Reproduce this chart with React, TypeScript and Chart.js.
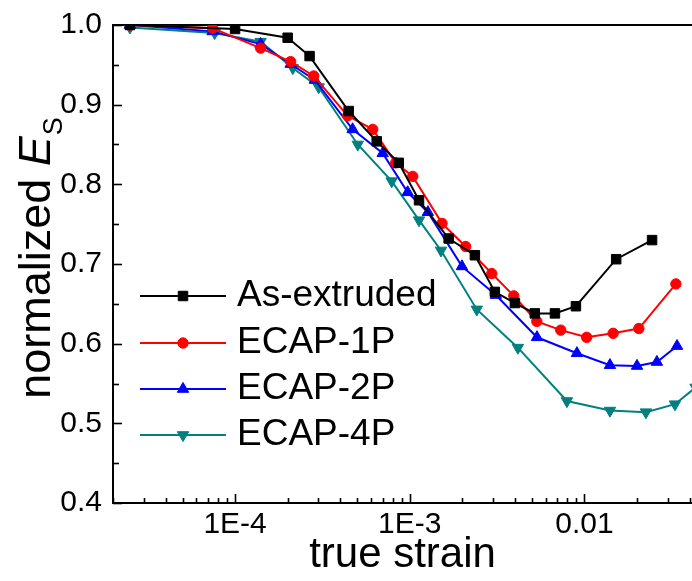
import React, { useEffect, useRef } from 'react';
import { Chart, registerables } from 'chart.js';
import { drawPoint } from 'chart.js/helpers';

Chart.register(...registerables);

const FONT = '"Liberation Sans", Arial, Helvetica, sans-serif';

const SERIES_NAMES = ['As-extruded', 'ECAP-1P', 'ECAP-2P', 'ECAP-4P'];
const SERIES_COLORS = ['#000000', '#ff0000', '#0000ff', '#008080'];

const AS_X = [2.5e-5, 1.0e-4, 2.0e-4, 2.67e-4, 4.47e-4, 6.47e-4, 8.65e-4, 1.13e-3, 1.67e-3, 2.36e-3, 3.07e-3, 4.0e-3, 5.2e-3, 6.78e-3, 8.94e-3, 1.52e-2, 2.44e-2];
const AS_Y = [1.0, 0.995, 0.984, 0.961, 0.892, 0.854, 0.827, 0.78, 0.732, 0.711, 0.665, 0.651, 0.638, 0.638, 0.647, 0.706, 0.73];

const P1_X = [2.5e-5, 7.43e-5, 1.4e-4, 2.08e-4, 2.82e-4, 4.41e-4, 6.14e-4, 8.31e-4, 1.04e-3, 1.53e-3, 2.09e-3, 2.95e-3, 3.94e-3, 5.34e-3, 7.32e-3, 1.03e-2, 1.46e-2, 2.05e-2, 3.34e-2];
const P1_Y = [1.0, 0.996, 0.971, 0.954, 0.936, 0.886, 0.869, 0.827, 0.81, 0.751, 0.722, 0.688, 0.66, 0.628, 0.617, 0.608, 0.613, 0.619, 0.675];

const P2_X = [2.5e-5, 7.43e-5, 1.4e-4, 2.08e-4, 2.86e-4, 4.71e-4, 7.0e-4, 9.73e-4, 1.27e-3, 1.99e-3, 3.11e-3, 5.35e-3, 9.06e-3, 1.4e-2, 2.0e-2, 2.6e-2, 3.39e-2];
const P2_Y = [1.0, 0.992, 0.976, 0.951, 0.931, 0.869, 0.839, 0.79, 0.765, 0.697, 0.661, 0.608, 0.588, 0.573, 0.572, 0.577, 0.597];

const P4_X = [2.5e-5, 7.64e-5, 1.4e-4, 2.14e-4, 3.01e-4, 5.04e-4, 7.88e-4, 1.13e-3, 1.51e-3, 2.42e-3, 4.16e-3, 7.94e-3, 1.4e-2, 2.25e-2, 3.3e-2, 4.33e-2];
const P4_Y = [0.997, 0.99, 0.979, 0.946, 0.922, 0.85, 0.804, 0.755, 0.717, 0.643, 0.595, 0.528, 0.516, 0.514, 0.524, 0.545];

const X_TICKS = [1e-4, 1e-3, 1e-2];
const X_TICK_LABELS = ['1E-4', '1E-3', '0.01'];
const Y_TICKS = [0.4, 0.5, 0.6, 0.7, 0.8, 0.9, 1.0];
const X_MIN = 2e-5;
const X_MAX = 0.0413;
const Y_MIN = 0.4;
const Y_MAX = 1.0;
const X_TITLE = 'true strain';
const Y_TITLE_MAIN = 'normalized ';
const Y_TITLE_SYMBOL = 'E';
const Y_TITLE_SUB = 'S';

const POINT_STYLES = [
  { pointStyle: 'rect', rotation: 0, radius: 6.7 },
  { pointStyle: 'circle', rotation: 0, radius: 5.2 },
  { pointStyle: 'triangle', rotation: 0, radius: 6.6 },
  { pointStyle: 'triangle', rotation: 180, radius: 6.6 },
];

const SERIES_X = [AS_X, P1_X, P2_X, P4_X];
const SERIES_Y = [AS_Y, P1_Y, P2_Y, P4_Y];

const framePlugin = {
  id: 'frameTicks',
  beforeDatasetsDraw(chart: any) {
    const { ctx, chartArea } = chart;
    const xs = chart.scales.x;
    const ys = chart.scales.y;
    ctx.save();
    ctx.strokeStyle = '#000';
    ctx.lineWidth = 1.6;
    for (let e = -5; e <= -1; e++) {
      for (let k = 1; k <= 9; k++) {
        const v = k * Math.pow(10, e);
        if (v < X_MIN * 0.999 || v > X_MAX) continue;
        const px = Math.round(xs.getPixelForValue(v)) + 0.5;
        const len = k === 1 ? 9 : 5;
        ctx.beginPath();
        ctx.moveTo(px, chartArea.bottom);
        ctx.lineTo(px, chartArea.bottom - len);
        ctx.stroke();
      }
    }
    for (let i = 0; i <= 12; i++) {
      const v = Y_MIN + i * 0.05;
      const py = Math.round(ys.getPixelForValue(v)) + 0.5;
      const len = i % 2 === 0 ? 9 : 6;
      ctx.beginPath();
      ctx.moveTo(chartArea.left, py);
      ctx.lineTo(chartArea.left + len, py);
      ctx.stroke();
    }
    ctx.lineWidth = 2;
    ctx.beginPath();
    ctx.moveTo(chartArea.right + 2, chartArea.top);
    ctx.lineTo(chartArea.left, chartArea.top);
    ctx.lineTo(chartArea.left, chartArea.bottom);
    ctx.lineTo(chartArea.right + 2, chartArea.bottom);
    ctx.stroke();
    ctx.restore();
  },
  afterDraw(chart: any) {
    const { ctx, chartArea } = chart;
    ctx.save();
    const rowsY = [271, 318, 364, 410];
    for (let i = 0; i < SERIES_NAMES.length; i++) {
      const y = chartArea.top + rowsY[i];
      const x0 = chartArea.left + 27;
      const x1 = chartArea.left + 113;
      const xm = chartArea.left + 70;
      ctx.strokeStyle = SERIES_COLORS[i];
      ctx.fillStyle = SERIES_COLORS[i];
      ctx.lineWidth = 2;
      ctx.beginPath();
      ctx.moveTo(x0, y);
      ctx.lineTo(x1, y);
      ctx.stroke();
      ctx.lineWidth = 1;
      drawPoint(ctx, { ...POINT_STYLES[i], borderWidth: 1 } as any, xm, y);
      ctx.fillStyle = '#000';
      ctx.font = `37px ${FONT}`;
      ctx.textAlign = 'left';
      ctx.textBaseline = 'middle';
      ctx.fillText(SERIES_NAMES[i], chartArea.left + 124, y);
    }
    const mainFont = `45px ${FONT}`;
    const symFont = `italic 45px ${FONT}`;
    const subFont = `27px ${FONT}`;
    ctx.font = mainFont;
    const w1 = ctx.measureText(Y_TITLE_MAIN).width;
    ctx.font = symFont;
    const w2 = ctx.measureText(Y_TITLE_SYMBOL).width;
    ctx.font = subFont;
    const w3 = ctx.measureText(Y_TITLE_SUB).width;
    const total = w1 + w2 + 1 + w3;
    const cy = (chartArea.top + chartArea.bottom) / 2 - 6;
    ctx.translate(50, cy);
    ctx.rotate(-Math.PI / 2);
    ctx.fillStyle = '#000';
    ctx.textAlign = 'left';
    ctx.textBaseline = 'alphabetic';
    let x = -total / 2;
    ctx.font = mainFont;
    ctx.fillText(Y_TITLE_MAIN, x, 0);
    x += w1;
    ctx.font = symFont;
    ctx.fillText(Y_TITLE_SYMBOL, x, 0);
    x += w2 + 1;
    ctx.font = subFont;
    ctx.fillText(Y_TITLE_SUB, x, 12);
    ctx.restore();
  },
};

export default function App() {
  const ref = useRef<HTMLCanvasElement | null>(null);
  useEffect(() => {
    if (!ref.current) return;
    const datasets = SERIES_NAMES.map((name, i) => ({
      label: name,
      data: SERIES_X[i].map((xv, j) => ({ x: xv, y: SERIES_Y[i][j] })),
      showLine: true,
      borderColor: SERIES_COLORS[i],
      backgroundColor: SERIES_COLORS[i],
      pointBackgroundColor: SERIES_COLORS[i],
      pointBorderColor: SERIES_COLORS[i],
      pointBorderWidth: 1,
      borderWidth: 2,
      tension: 0,
      pointStyle: POINT_STYLES[i].pointStyle,
      pointRotation: POINT_STYLES[i].rotation,
      pointRadius: POINT_STYLES[i].radius,
    }));
    const chart = new Chart(ref.current, {
      type: 'scatter',
      data: { datasets } as any,
      options: {
        responsive: false,
        devicePixelRatio: 1,
        animation: false,
        layout: { autoPadding: false, padding: { top: 25, left: 0, right: 0, bottom: 0 } },
        plugins: { legend: { display: false }, tooltip: { enabled: false } },
        scales: {
          x: {
            type: 'logarithmic',
            min: X_MIN,
            max: X_MAX,
            grid: { display: false, drawTicks: false },
            border: { display: false },
            afterBuildTicks: (scale: any) => {
              scale.ticks = X_TICKS.map((v) => ({ value: v }));
            },
            afterFit: (scale: any) => {
              scale.height = 78;
              scale.paddingLeft = 0;
              scale.paddingRight = 0;
            },
            ticks: {
              autoSkip: false,
              maxRotation: 0,
              padding: 4,
              color: '#000',
              font: { family: FONT, size: 30 },
              callback: (v: any) => {
                const idx = X_TICKS.findIndex((t) => Math.abs(t - Number(v)) / t < 1e-6);
                return idx >= 0 ? X_TICK_LABELS[idx] : '';
              },
            },
            title: {
              display: true,
              text: X_TITLE,
              color: '#000',
              font: { family: FONT, size: 42 },
              padding: { top: 0, bottom: 0 },
            },
          },
          y: {
            type: 'linear',
            min: Y_MIN,
            max: Y_MAX,
            grid: { display: false, drawTicks: false },
            border: { display: false },
            afterBuildTicks: (scale: any) => {
              scale.ticks = Y_TICKS.map((v) => ({ value: v }));
            },
            afterFit: (scale: any) => {
              scale.width = 113;
              scale.paddingTop = 0;
              scale.paddingBottom = 0;
            },
            ticks: {
              padding: 11,
              color: '#000',
              font: { family: FONT, size: 30 },
              callback: (v: any) => Number(v).toFixed(1),
            },
          },
        },
      } as any,
      plugins: [framePlugin],
    });
    return () => chart.destroy();
  }, []);
  return (
    <div style={{ position: 'absolute', left: 0, top: 0, width: 692, height: 581, background: '#fff' }}>
      <canvas ref={ref} width={692} height={581} style={{ display: 'block', width: 692, height: 581 }} />
    </div>
  );
}
